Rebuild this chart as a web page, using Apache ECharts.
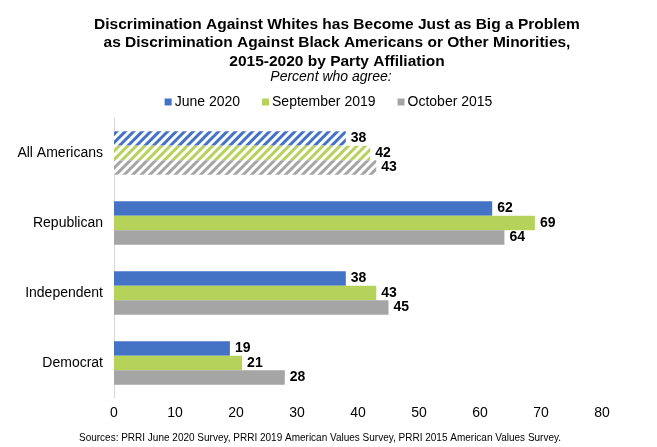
<!DOCTYPE html>
<html><head><meta charset="utf-8">
<script src="https://cdn.jsdelivr.net/npm/echarts@6/dist/echarts.min.js"></script>
<style>html,body{margin:0;padding:0;background:#fff}#c{width:657px;height:447px}</style>
</head><body><div id="c"></div>
<script>
var categories = ['All Americans', 'Republican', 'Independent', 'Democrat'];
var june2020 = [38, 62, 38, 19];
var sept2019 = [42, 69, 43, 21];
var oct2015 = [43, 64, 45, 28];
var xTicks = [0, 10, 20, 30, 40, 50, 60, 70, 80];

var F = 'Liberation Sans, Arial, sans-serif';
function mk(name, data, color) {
  return {
    name: name, type: 'bar', data: data.map(function (v, i) {
      if (i === 0) {
        return { value: v, itemStyle: { color: '#ffffff', decal: { symbol: 'rect', color: color, dashArrayX: [1, 0], dashArrayY: [3, 3], rotation: -Math.PI / 4, symbolSize: 1 } } };
      }
      return v;
    }),
    itemStyle: { color: color },
    barWidth: 14.5, barGap: '0%',
    label: { show: true, position: 'right', color: '#000', fontWeight: 'bold', fontSize: 14, fontFamily: F, distance: 5 }
  };
}
var chart = echarts.init(document.getElementById('c'));
chart.setOption({
  animation: false,
  title: [
    { text: 'Discrimination Against Whites has Become Just as Big a Problem\nas Discrimination Against Black Americans or Other Minorities,\n2015-2020 by Party Affiliation', left: 332, top: 10, textAlign: 'center',
      textStyle: { fontFamily: F, fontSize: 15.5, fontWeight: 'bold', color: '#000', lineHeight: 18.5 } },
    { text: 'Percent who agree:', left: 326, top: 65, textAlign: 'center',
      textStyle: { fontFamily: F, fontSize: 14, fontStyle: 'italic', fontWeight: 'normal', color: '#000' } },
    { text: 'Sources: PRRI June 2020 Survey, PRRI 2019 American Values Survey, PRRI 2015 American Values Survey.', left: 315, top: 428, textAlign: 'center',
      textStyle: { fontFamily: F, fontSize: 10, fontWeight: 'normal', color: '#000' } }
  ],
  legend: {
    top: 90, left: 'center', itemWidth: 7, itemHeight: 7, itemGap: 22, icon: 'rect',
    textStyle: { fontFamily: F, fontSize: 14, color: '#000', padding: [0, 0, 0, -2] },
    data: ['June 2020', 'September 2019', 'October 2015']
  },
  grid: { left: 114, right: 55, top: 118, bottom: 49 },
  xAxis: {
    type: 'value', min: 0, max: 80, interval: 10,
    axisLine: { show: false }, axisTick: { show: false }, splitLine: { show: false },
    axisLabel: { fontFamily: F, fontSize: 14, color: '#000', margin: 8,
      formatter: function (v) { return xTicks.indexOf(v) >= 0 ? String(v) : ''; } }
  },
  yAxis: {
    type: 'category', data: categories, inverse: true,
    axisLine: { show: true, lineStyle: { color: '#d9d9d9', width: 1 } },
    axisTick: { show: false },
    axisLabel: { fontFamily: F, fontSize: 14, color: '#000', margin: 11 }
  },
  series: [
    mk('June 2020', june2020, '#4472c4'),
    mk('September 2019', sept2019, '#b5d35a'),
    mk('October 2015', oct2015, '#a5a5a5')
  ]
});
</script></body></html>
